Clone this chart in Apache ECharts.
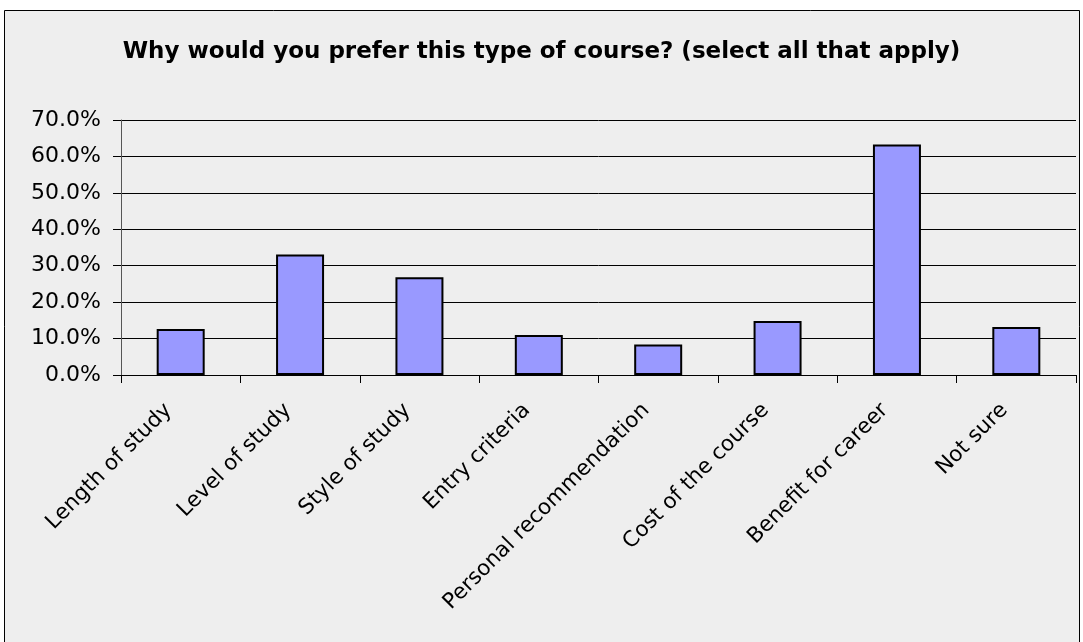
<!DOCTYPE html>
<html>
<head>
<meta charset="utf-8">
<script src="https://cdn.jsdelivr.net/npm/echarts@6/dist/echarts.min.js"></script>
<style>
  html, body { margin: 0; padding: 0; background: #fff; }
  #chart { width: 1083px; height: 642px; }
</style>
</head>
<body>
<div id="chart"></div>
<script>
// survey answers, share of respondents (%)
const categories = [
  'Length of study', 'Level of study', 'Style of study', 'Entry criteria',
  'Personal recommendation', 'Cost of the course', 'Benefit for career', 'Not sure'
];
const shares = [12.6, 33.1, 26.8, 11.0, 8.4, 14.8, 63.3, 13.2];
const titleText = 'Why would you prefer this type of course? (select all that apply)';

const chart = echarts.init(document.getElementById('chart'));

chart.setOption({
  animation: false,
  backgroundColor: '#fff',
  graphic: [
    {
      type: 'rect',
      z: -10,
      silent: true,
      shape: { x: 4.5, y: 10.5, width: 1075, height: 640 },
      style: { fill: '#eeeeee', stroke: '#000', lineWidth: 1 }
    }
  ],
  title: {
    text: titleText,
    left: 'center',
    top: 36,
    textStyle: {
      fontFamily: 'DejaVu Sans',
      fontWeight: 'bold',
      fontSize: 23,
      color: '#000'
    }
  },
  grid: {
    left: 121,
    right: 7,
    top: 120,
    bottom: 267,
    containLabel: false
  },
  xAxis: {
    type: 'category',
    data: categories,
    axisLine: { lineStyle: { color: '#000', width: 1 } },
    axisTick: { show: true, length: 8, inside: false, alignWithLabel: false, lineStyle: { color: '#000' } },
    axisLabel: {
      rotate: 45,
      margin: 20,
      interval: 0,
      padding: [0, 17, 0, 0],
      fontFamily: 'DejaVu Sans',
      fontSize: 21.5,
      color: '#000'
    }
  },
  yAxis: {
    type: 'value',
    min: 0,
    max: 70,
    interval: 10,
    axisLine: { show: true, lineStyle: { color: '#555', width: 1 } },
    axisTick: { show: true, length: 8, lineStyle: { color: '#000' } },
    axisLabel: {
      margin: 20,
      fontFamily: 'DejaVu Sans',
      fontSize: 22,
      color: '#000',
      formatter: v => v.toFixed(1) + '%'
    },
    splitLine: { show: true, lineStyle: { color: '#000', width: 1 } }
  },
  series: [
    {
      type: 'bar',
      data: shares,
      barWidth: 48,
      itemStyle: {
        color: '#9999ff',
        borderColor: '#000',
        borderWidth: 2
      }
    }
  ]
});
</script>
</body>
</html>
